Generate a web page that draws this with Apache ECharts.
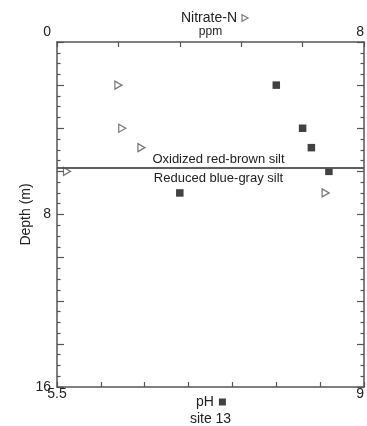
<!DOCTYPE html>
<html>
<head>
<meta charset="utf-8">
<script src="https://cdn.jsdelivr.net/npm/echarts@6/dist/echarts.min.js"></script>
<style>
html,body{margin:0;padding:0;background:#fff;}
#c{width:367px;height:426px;}
</style>
</head>
<body>
<div id="c"></div>
<script>
// ---- data ----
var phDepths = [2, 4, 4.9, 6, 7];
var phValues = [8.0, 8.3, 8.4, 8.6, 6.9];
var nitrateDepths = [2, 4, 4.9, 6, 7];
var nitrateValues = [1.6, 1.7, 2.2, 0.26, 7.0];
var boundaryDepth = [5.85];
var boundaryLabels = ['Oxidized red-brown silt', 'Reduced blue-gray silt'];
var phTickLabels = ['5.5', '9'];
var nitrateTicks = [0, 1.6, 3.2, 4.8, 6.4, 8];
var nitrateTickLabels = ['0', '8'];
var depthTickLabels = ['8', '16'];

var phData = phValues.map(function (v, i) { return [v, phDepths[i]]; });
var nitData = nitrateValues.map(function (v, i) { return [v, nitrateDepths[i]]; });

var AX = '#555';
var TXT = '#222';
var FONT = 'Liberation Sans, Arial, sans-serif';

function onlyLabels(list) {
  return function (v) {
    var s = String(+v.toFixed(2));
    return list.indexOf(s) >= 0 ? s : '';
  };
}

var chart = echarts.init(document.getElementById('c'), null, {renderer: 'canvas'});
chart.setOption({
  animation: false,
  backgroundColor: '#fff',
  textStyle: {fontFamily: FONT, color: TXT},
  grid: {left: 57, top: 42, width: 307, height: 345, containLabel: false, outerBoundsMode: 'none'},
  legend: [
    {
      data: [{name: 'Nitrate-N', icon: 'path://M0,0L9,5L0,10Z',
        itemStyle: {color: '#fff', borderColor: '#555', borderWidth: 1.2}}],
      align: 'right', left: 176, top: 6,
      itemWidth: 6, itemHeight: 7, selectedMode: false,
      textStyle: {fontSize: 14, color: TXT, fontFamily: FONT}
    },
    {
      data: ['pH'], align: 'right', left: 191, top: 390,
      itemWidth: 7, itemHeight: 7, selectedMode: false,
      textStyle: {fontSize: 14, color: TXT, fontFamily: FONT}
    }
  ],
  xAxis: [
    {
      type: 'value', position: 'bottom', min: 5.5, max: 9, interval: 0.5,
      name: 'site 13', nameLocation: 'middle', nameGap: 25, nameMoveOverlap: false,
      nameTextStyle: {fontSize: 14, color: TXT, fontFamily: FONT},
      axisLine: {show: true, onZero: false, lineStyle: {color: AX, width: 1.5}},
      axisTick: {show: true, inside: true, length: 5, lineStyle: {color: AX, width: 1.2}},
      axisLabel: {show: true, margin: 0, fontSize: 14, color: TXT, fontFamily: FONT,
        formatter: onlyLabels(phTickLabels), alignMaxLabel: 'right'},
      splitLine: {show: false}
    },
    {
      type: 'value', position: 'top', min: 0, max: 8, interval: 1.6,
      name: 'ppm', nameLocation: 'middle', nameGap: 4, nameMoveOverlap: false,
      nameTextStyle: {fontSize: 12, color: TXT, fontFamily: FONT},
      axisLine: {show: true, onZero: false, lineStyle: {color: AX, width: 1.5}},
      axisTick: {show: true, inside: true, length: 5, customValues: nitrateTicks, lineStyle: {color: AX, width: 1.2}},
      axisLabel: {show: true, margin: 3, fontSize: 14, color: TXT, fontFamily: FONT,
        customValues: nitrateTicks,
        formatter: function (v) {
          var s = String(+v.toFixed(2));
          if (s === nitrateTickLabels[0]) return '{a|' + s + '}';
          if (s === nitrateTickLabels[1]) return s;
          return '';
        },
        rich: {a: {fontSize: 14, color: TXT, fontFamily: FONT, padding: [0, 6, 0, 0]}},
        alignMinLabel: 'right', alignMaxLabel: 'right'},
      splitLine: {show: false}
    }
  ],
  yAxis: [
    {
      type: 'value', position: 'left', inverse: true, min: 0, max: 16, interval: 2,
      name: 'Depth (m)', nameLocation: 'middle', nameGap: 24, nameMoveOverlap: false,
      nameTextStyle: {fontSize: 14, color: TXT, fontFamily: FONT},
      axisLine: {show: true, onZero: false, lineStyle: {color: AX, width: 1.5}},
      axisTick: {show: true, inside: true, length: 7, lineStyle: {color: AX, width: 1.2}},
      minorTick: {show: true, splitNumber: 4, length: 3.5, lineStyle: {color: AX, width: 1.2}},
      axisLabel: {show: true, margin: 6, fontSize: 14, color: TXT, fontFamily: FONT,
        formatter: onlyLabels(depthTickLabels)},
      splitLine: {show: false}, minorSplitLine: {show: false}
    },
    {
      type: 'value', position: 'right', inverse: true, min: 0, max: 16, interval: 2,
      axisLine: {show: true, onZero: false, lineStyle: {color: AX, width: 1.5}},
      axisTick: {show: true, inside: true, length: 7, lineStyle: {color: AX, width: 1.2}},
      minorTick: {show: true, splitNumber: 4, length: 3.5, lineStyle: {color: AX, width: 1.2}},
      axisLabel: {show: false},
      splitLine: {show: false}, minorSplitLine: {show: false}
    }
  ],
  series: [
    {
      name: 'pH', type: 'scatter', xAxisIndex: 0, yAxisIndex: 0,
      symbol: 'rect', symbolSize: 7.5,
      itemStyle: {color: '#111', borderColor: '#111', borderWidth: 0},
      data: phData,
      markLine: {
        silent: true, symbol: 'none', animation: false,
        lineStyle: {color: AX, width: 1.5, type: 'solid'},
        label: {show: true, fontSize: 13, color: TXT, fontFamily: FONT},
        data: [
          {yAxis: boundaryDepth[0], label: {formatter: boundaryLabels[0], position: 'insideMiddleTop', distance: 2, offset: [8, 0]}},
          {yAxis: boundaryDepth[0], label: {formatter: boundaryLabels[1], position: 'insideMiddleBottom', distance: 4, offset: [8, 0]}}
        ]
      }
    },
    {
      name: 'Nitrate-N', type: 'scatter', xAxisIndex: 1, yAxisIndex: 0,
      symbol: 'triangle', symbolSize: [8, 7], symbolRotate: -90,
      itemStyle: {color: '#fff', borderColor: '#555', borderWidth: 1.3},
      data: nitData
    }
  ]
});
</script>
</body>
</html>
